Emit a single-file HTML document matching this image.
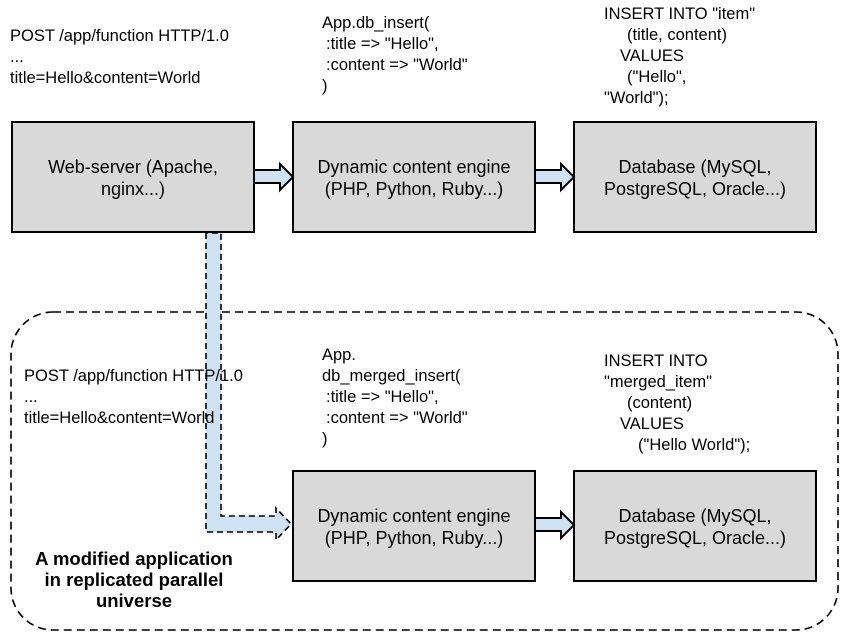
<!DOCTYPE html>
<html><head><meta charset="utf-8"><style>
html,body{margin:0;padding:0;background:#fff;}
svg{display:block;}
text{font-family:"Liberation Sans",Arial,sans-serif;font-size:16.5px;fill:#000;}
.c{text-anchor:middle;font-size:18px;}
.b{font-weight:bold;font-size:18.5px;}
</style></head><body>
<svg width="845" height="639" viewBox="0 0 845 639" xmlns="http://www.w3.org/2000/svg">
<rect x="11" y="312" width="827" height="318" rx="42" ry="42" fill="none" stroke="#000" stroke-width="1.6" stroke-dasharray="8,5"/>

<rect x="12" y="122" width="242" height="110" fill="#d9d9d9" stroke="#000" stroke-width="2"/>
<rect x="293" y="122" width="242" height="110" fill="#d9d9d9" stroke="#000" stroke-width="2"/>
<rect x="574" y="122" width="242" height="110" fill="#d9d9d9" stroke="#000" stroke-width="2"/>
<rect x="293" y="471" width="242" height="110" fill="#d9d9d9" stroke="#000" stroke-width="2"/>
<rect x="574" y="471" width="242" height="110" fill="#d9d9d9" stroke="#000" stroke-width="2"/>

<path d="M254 170 H280 V164 L293 177 L280 190 V183 H254 Z" fill="#cfe2f3" stroke="#000" stroke-width="2"/>
<path d="M535 170 H561 V164 L574 177 L561 190 V183 H535 Z" fill="#cfe2f3" stroke="#000" stroke-width="2"/>
<path d="M535 518 H561 V512 L574 525 L561 538 V531 H535 Z" fill="#cfe2f3" stroke="#000" stroke-width="2"/>

<path d="M206 233 V532 H276 V540 L291 524 L276 508 V516 H221 V233 Z" fill="#cfe2f3" stroke="#000" stroke-width="1.6" stroke-dasharray="6,4"/>

<text class="c" x="133" y="173">Web-server (Apache,</text>
<text class="c" x="133" y="195">nginx...)</text>
<text class="c" x="414" y="173">Dynamic content engine</text>
<text class="c" x="414" y="195">(PHP, Python, Ruby...)</text>
<text class="c" x="695" y="173">Database (MySQL,</text>
<text class="c" x="695" y="195">PostgreSQL, Oracle...)</text>
<text class="c" x="414" y="522">Dynamic content engine</text>
<text class="c" x="414" y="544">(PHP, Python, Ruby...)</text>
<text class="c" x="695" y="522">Database (MySQL,</text>
<text class="c" x="695" y="544">PostgreSQL, Oracle...)</text>

<text x="10" y="41">POST /app/function HTTP/1.0</text>
<text x="10" y="62">...</text>
<text x="10" y="83">title=Hello&amp;content=World</text>

<text x="322" y="28">App.db_insert(</text>
<text x="326" y="49">:title =&gt; "Hello",</text>
<text x="326" y="70">:content =&gt; "World"</text>
<text x="322" y="91">)</text>

<text x="604" y="19">INSERT INTO "item"</text>
<text x="627" y="40">(title, content)</text>
<text x="620" y="61">VALUES</text>
<text x="627" y="82">("Hello",</text>
<text x="604" y="103">"World");</text>

<text x="24" y="381">POST /app/function HTTP/1.0</text>
<text x="24" y="402">...</text>
<text x="24" y="423">title=Hello&amp;content=World</text>

<text x="322" y="360">App.</text>
<text x="322" y="381">db_merged_insert(</text>
<text x="326" y="402">:title =&gt; "Hello",</text>
<text x="326" y="423">:content =&gt; "World"</text>
<text x="322" y="444">)</text>

<text x="604" y="366">INSERT INTO</text>
<text x="604" y="387">"merged_item"</text>
<text x="627" y="408">(content)</text>
<text x="620" y="429">VALUES</text>
<text x="638" y="450">("Hello World");</text>

<text class="c b" x="134" y="565">A modified application</text>
<text class="c b" x="134" y="586">in replicated parallel</text>
<text class="c b" x="134" y="607">universe</text>
</svg>
</body></html>
